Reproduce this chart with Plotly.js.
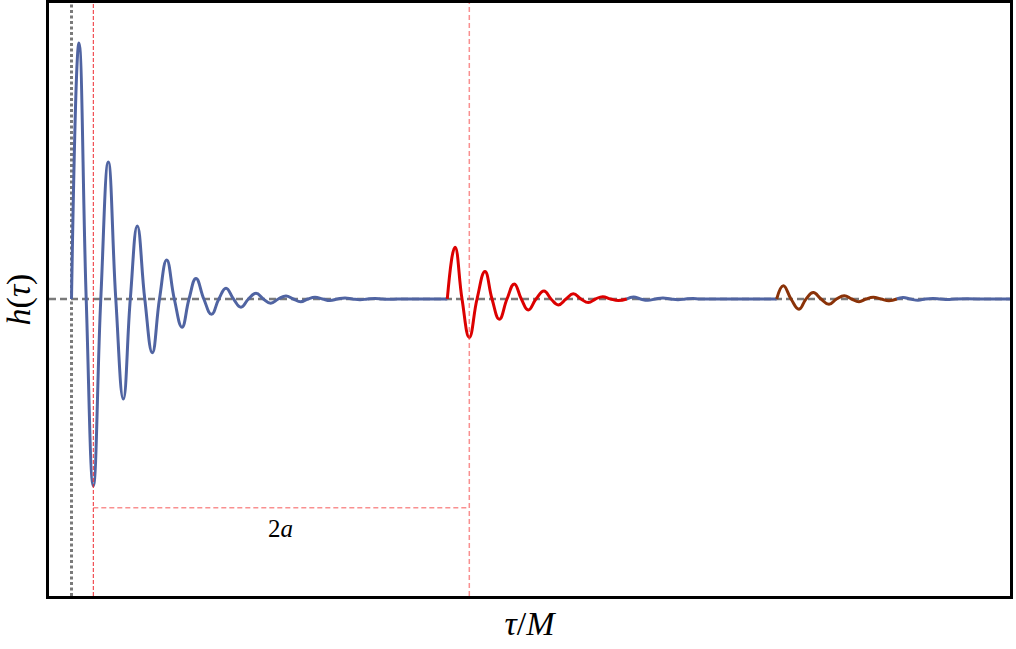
<!DOCTYPE html>
<html>
<head>
<meta charset="utf-8">
<script src="https://cdn.plot.ly/plotly-3.0.1.min.js"></script>
<style>html,body{margin:0;padding:0;background:#fff;}#chart{width:1016px;height:649px;}</style>
</head>
<body>
<div id="chart"></div>
<script>
// Main ringdown (extrema and zero crossings)
const mainTau = [0, 1.99, 3.91, 5.80, 7.79, 9.79, 11.78, 13.78, 15.64, 17.50, 19.49, 21.49, 23.40, 25.32, 27.34, 29.39, 31.25, 33.11, 35.19, 37.23, 39.18, 41.09, 43.09, 45.08, 47.07, 49.07, 51.01, 52.98, 55.00, 57.05, 58.99, 60.96, 62.85, 64.76, 66.76, 68.75, 70.74, 72.74, 74.73, 76.73, 78.72, 80.72, 82.71, 84.71, 86.7, 93.0, 99.95];
const mainH   = [0, 1.000, 0, -0.730, 0, 0.535, 0, -0.391, 0, 0.285, 0, -0.210, 0, 0.152, 0, -0.110, 0, 0.080, 0, -0.060, 0, 0.042, 0, -0.032, 0, 0.022, 0, -0.017, 0, 0.012, 0, -0.0105, 0, 0.0065, 0, -0.006, 0, 0.004, 0, -0.003, 0, 0.002, 0, -0.0015, 0, 0, 0];
// First echo
const echo1Tau = [99.95, 102.0, 103.86, 105.80, 107.85, 109.97, 111.84, 113.78, 115.82, 117.77, 119.63, 121.49, 123.54, 125.66, 127.53, 129.47, 131.52, 133.46, 135.51, 137.45, 139.36, 141.28, 143.35, 145.43, 147.66];
const echo1H   = [0, 0.202, 0, -0.150, 0, 0.107, 0, -0.079, 0, 0.059, 0, -0.043, 0, 0.031, 0, -0.023, 0, 0.020, 0, -0.014, 0, 0.009, 0, -0.006, 0];
// Tail after first echo
const tail1Tau = [147.66, 149.5, 151.3, 153.3, 155.3, 157.3, 159.3, 161.3, 163.3, 165.3, 167.3, 177.0, 187.55];
const tail1H   = [0, 0.008, 0, -0.005, 0, 0.004, 0, -0.003, 0, 0.0015, 0, 0, 0];
// Second echo
const echo2Tau = [187.55, 189.31, 191.36, 193.48, 195.35, 197.29, 199.34, 201.46, 203.46, 205.53, 207.45, 209.44, 211.30, 213.24, 215.29, 217.42, 219.47];
const echo2H   = [0, 0.052, 0, -0.040, 0, 0.025, 0, -0.021, 0, 0.013, 0, -0.0105, 0, 0.0066, 0, -0.0066, 0];
// Tail after second echo
const tail2Tau = [219.47, 221.14, 223.1, 225.13, 227.1, 229.12, 231.1, 233.1, 235.1, 245.0, 252.0];
const tail2H   = [0, 0.006, 0, -0.005, 0, 0.002, 0, -0.002, 0, 0, 0];

// Reference markers
const tauMerger = 0;
const tauPeak = 5.80;
const twoA = 100;
const bracketH = -0.815;
const labelTau = 55.7;
const labelH = -0.895;
const labelText = '2<i>a</i>';

const blue = '#5064a2', red = '#dc0000', brown = '#8a3208';
function seg(x, y, color) {
  return {x: x, y: y, type: 'scatter', mode: 'lines', cliponaxis: true,
          line: {color: color, width: 3, shape: 'spline', smoothing: 1.3},
          hoverinfo: 'skip', showlegend: false};
}
const traces = [
  seg(mainTau, mainH, blue),
  seg(tail1Tau, tail1H, blue),
  seg(tail2Tau, tail2H, blue),
  seg(echo1Tau, echo1H, red),
  seg(echo2Tau, echo2H, brown)
];

const serif = 'Liberation Serif, DejaVu Serif, serif';

const layout = {
  width: 1016, height: 649,
  margin: {l: 49, r: 6, t: 3, b: 53},
  paper_bgcolor: '#fff', plot_bgcolor: '#fff',
  showlegend: false,
  xaxis: {range: [-5.984, 249.6], showline: true, mirror: true, linecolor: '#000', linewidth: 3,
          showgrid: false, zeroline: false, showticklabels: false, ticks: '',
          title: {text: '<i>τ</i>/<i>M</i>', font: {family: serif, size: 34, color: '#000'}, standoff: 14}},
  yaxis: {range: [-1.160, 1.156], showline: true, mirror: true, linecolor: '#000', linewidth: 3,
          showgrid: false, zeroline: false, showticklabels: false, ticks: '',
          title: {text: '<i>h</i>(<i>τ</i>)', font: {family: serif, size: 34, color: '#000'}, standoff: 10}},
  shapes: [
    {type: 'line', xref: 'paper', yref: 'y', x0: 0, x1: 1, y0: 0, y1: 0, layer: 'below',
     line: {color: '#7a7a7a', width: 2.5, dash: '7px,4px'}},
    {type: 'line', xref: 'x', yref: 'paper', x0: tauMerger, x1: tauMerger, y0: 0, y1: 1, layer: 'below',
     line: {color: '#7a7a7a', width: 3, dash: '3px,2.5px'}},
    {type: 'line', xref: 'x', yref: 'paper', x0: tauPeak, x1: tauPeak, y0: 0, y1: 1,
     line: {color: '#ee2a30', width: 1, dash: '4px,2px'}},
    {type: 'line', xref: 'x', yref: 'paper', x0: tauPeak + twoA, x1: tauPeak + twoA, y0: 0, y1: 1,
     line: {color: 'rgba(245,70,70,0.6)', width: 1.5, dash: '5px,3px'}},
    {type: 'line', xref: 'x', yref: 'y', x0: tauPeak, x1: tauPeak + twoA, y0: bracketH, y1: bracketH,
     line: {color: 'rgba(245,70,70,0.6)', width: 1.5, dash: '5px,3px'}}
  ],
  annotations: [
    {x: labelTau, y: labelH, xref: 'x', yref: 'y', text: labelText, showarrow: false,
     xanchor: 'center', yanchor: 'middle',
     font: {family: serif, size: 25, color: '#000'}}
  ]
};

Plotly.newPlot('chart', traces, layout, {staticPlot: true, displayModeBar: false});
</script>
</body>
</html>
